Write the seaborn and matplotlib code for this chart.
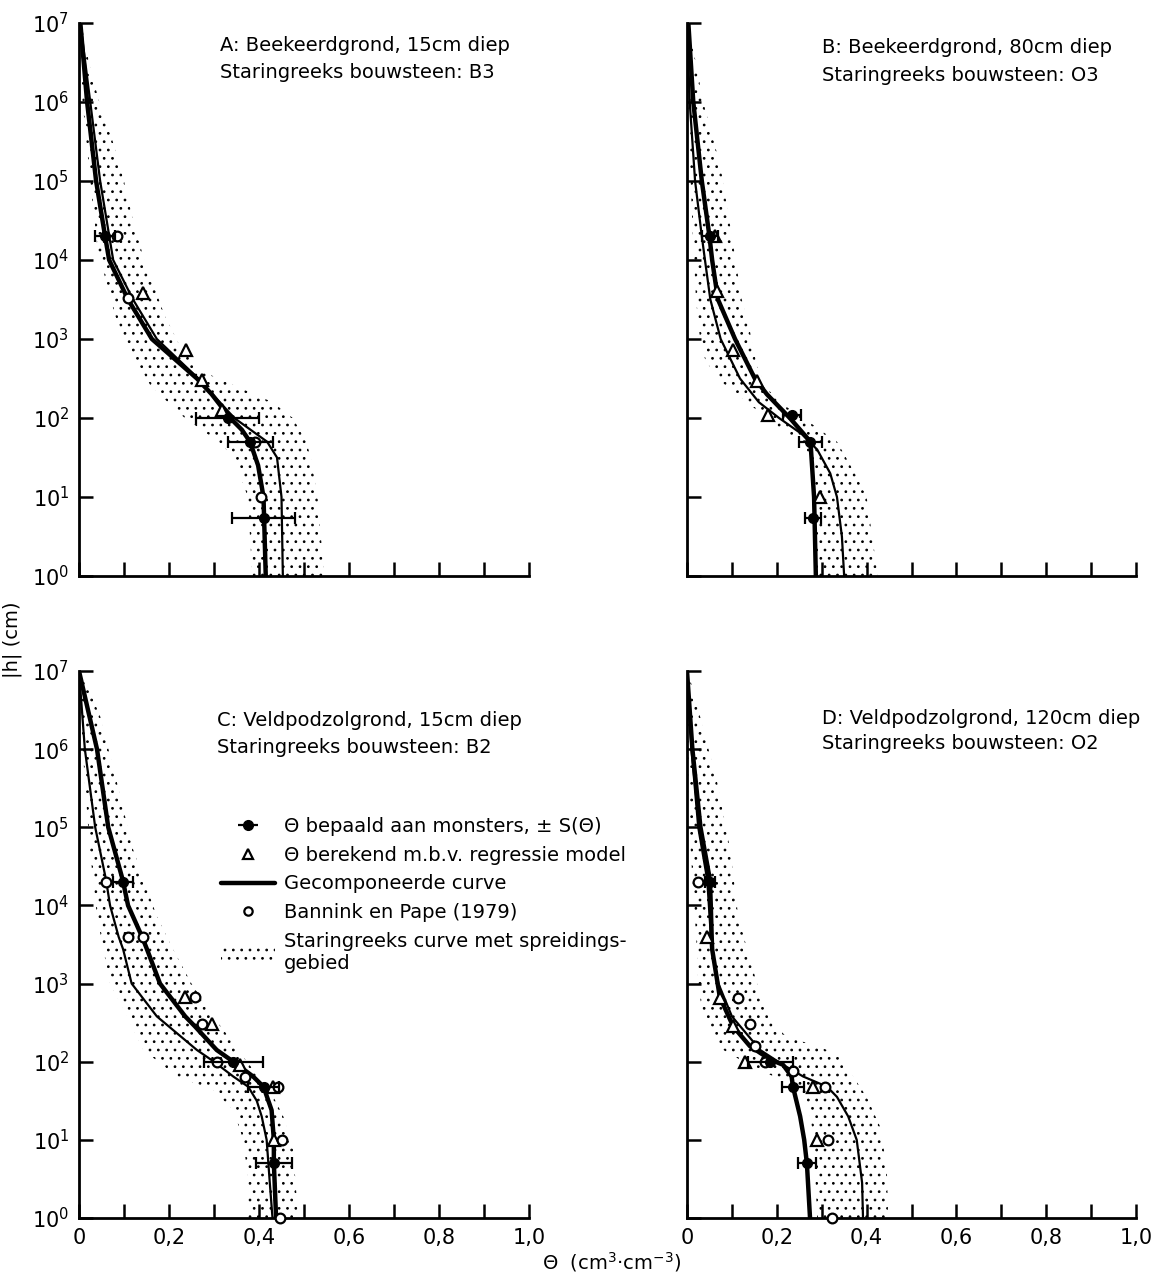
import numpy as np
import matplotlib
matplotlib.use("Agg")
import matplotlib.pyplot as plt
import seaborn as sns
from matplotlib.lines import Line2D
from matplotlib.patches import Patch
from matplotlib.ticker import NullLocator

# ---------------- data (theta in cm3/cm3, pF = log10 |h| in cm) ----------------
# Panel A
A_comp_t = [0.003, 0.018, 0.038, 0.058, 0.067, 0.109, 0.162, 0.262, 0.295, 0.336, 0.362, 0.38, 0.398, 0.41, 0.415]
A_comp_pf = [7, 6, 5, 4.3, 4, 3.5, 3, 2.5, 2.3, 2, 1.85, 1.7, 1.4, 1, 0]
A_star_t = [0.003, 0.025, 0.047, 0.076, 0.12, 0.173, 0.265, 0.345, 0.418, 0.44, 0.45, 0.453]
A_star_pf = [7, 6, 5, 4, 3.5, 3, 2.5, 2, 1.7, 1.5, 1, 0]
A_bandL_t = [0.0, 0.008, 0.025, 0.042, 0.062, 0.08, 0.11, 0.16, 0.235, 0.31, 0.345, 0.375, 0.385]
A_bandL_pf = [7, 6, 5, 4.1, 3.7, 3.3, 2.9, 2.4, 2, 1.7, 1.5, 1, 0]
A_bandR_t = [0.005, 0.022, 0.045, 0.075, 0.1, 0.12, 0.145, 0.165, 0.19, 0.225, 0.27, 0.35, 0.43, 0.475, 0.505, 0.515, 0.53, 0.545]
A_bandR_pf = [7, 6.5, 6, 5.5, 5, 4.5, 4, 3.7, 3.3, 2.9, 2.6, 2.4, 2.2, 2, 1.7, 1.5, 1, 0]
A_meas_t = [0.058, 0.33, 0.38, 0.41]
A_meas_h = [2e4, 100, 50, 5.5]
A_meas_err = [0.022, 0.07, 0.05, 0.069]
A_reg_t = [0.142, 0.238, 0.274, 0.318]
A_reg_h = [3800, 725, 300, 126]
A_bp_t = [0.085, 0.109, 0.39, 0.405]
A_bp_h = [2e4, 3300, 50, 10]

# Panel B
B_comp_t = [0.003, 0.014, 0.033, 0.05, 0.056, 0.069, 0.107, 0.151, 0.178, 0.229, 0.275, 0.283, 0.287]
B_comp_pf = [7, 6, 5, 4.3, 4, 3.5, 3, 2.5, 2.3, 2, 1.7, 1, 0]
B_star_t = [0.0, 0.006, 0.018, 0.033, 0.04, 0.052, 0.075, 0.118, 0.16, 0.205, 0.255, 0.29, 0.319, 0.334, 0.345, 0.35]
B_star_pf = [7, 6, 5, 4.3, 4, 3.5, 3, 2.5, 2.2, 2, 1.8, 1.6, 1.3, 1, 0.5, 0]
B_bandL_t = [0.0, 0.003, 0.008, 0.013, 0.02, 0.029, 0.04, 0.067, 0.134, 0.2, 0.258, 0.281, 0.285]
B_bandL_pf = [7, 6, 5, 4.3, 3.5, 3, 2.75, 2.5, 2.2, 1.89, 1.68, 1.39, 0]
B_bandR_t = [0.003, 0.036, 0.074, 0.1, 0.122, 0.14, 0.156, 0.175, 0.205, 0.26, 0.296, 0.334, 0.38, 0.40, 0.425]
B_bandR_pf = [7, 6, 5.2, 4.3, 3.5, 3.1, 2.65, 2.4, 2.2, 2.0, 1.85, 1.7, 1.24, 1.0, 0]
B_meas_t = [0.051, 0.234, 0.275, 0.281]
B_meas_h = [2e4, 110, 50, 5.5]
B_meas_err = [0.017, 0.02, 0.025, 0.018]
B_reg_t = [0.062, 0.067, 0.103, 0.156, 0.18, 0.296]
B_reg_h = [2e4, 4000, 730, 290, 110, 10]
B_bp_t = []
B_bp_h = []

# Panel C
C_comp_t = [0.0, 0.04, 0.065, 0.097, 0.109, 0.14, 0.151, 0.18, 0.236, 0.258, 0.306, 0.343, 0.387, 0.41, 0.428, 0.433, 0.433, 0.438]
C_comp_pf = [7, 6, 5, 4.33, 4, 3.6, 3.44, 3, 2.58, 2.45, 2.15, 2, 1.81, 1.68, 1.38, 1, 0.7, 0]
C_star_t = [0.0, 0.013, 0.036, 0.06, 0.069, 0.088, 0.098, 0.117, 0.173, 0.262, 0.3, 0.343, 0.376, 0.395, 0.406, 0.417, 0.424, 0.43]
C_star_pf = [7, 6, 5, 4.33, 4, 3.6, 3.44, 3, 2.58, 2.15, 2, 1.81, 1.68, 1.5, 1.3, 1, 0.45, 0]
C_bandL_t = [0.0, 0.004, 0.013, 0.024, 0.04, 0.054, 0.069, 0.107, 0.143, 0.218, 0.298, 0.343, 0.365, 0.376, 0.376]
C_bandL_pf = [7, 6.42, 5.58, 4.72, 3.86, 3.44, 3.0, 2.58, 2.15, 1.81, 1.64, 1.38, 1.0, 0.47, 0]
C_bandR_t = [0.005, 0.047, 0.084, 0.12, 0.173, 0.209, 0.25, 0.298, 0.343, 0.373, 0.424, 0.454, 0.476, 0.487]
C_bandR_pf = [7, 6.42, 5.58, 4.72, 3.86, 3.44, 3.0, 2.58, 2.24, 2.0, 1.64, 1.3, 0.87, 0]
C_meas_t = [0.097, 0.343, 0.41, 0.433]
C_meas_h = [2e4, 100, 48, 5]
C_meas_err = [0.022, 0.065, 0.035, 0.04]
C_reg_t = [0.236, 0.295, 0.358, 0.432, 0.433]
C_reg_h = [680, 300, 92, 48, 10]
C_bp_t = [0.06, 0.109, 0.143, 0.258, 0.273, 0.306, 0.369, 0.443, 0.45, 0.447]
C_bp_h = [2e4, 4000, 4000, 680, 300, 100, 63, 48, 10, 1]

# Panel D
D_comp_t = [0.0, 0.012, 0.03, 0.051, 0.053, 0.055, 0.056, 0.073, 0.103, 0.14, 0.185, 0.214, 0.233, 0.236, 0.252, 0.261, 0.267, 0.274]
D_comp_pf = [7, 6, 5, 4.33, 4, 3.6, 3.44, 2.83, 2.45, 2.2, 2.03, 1.96, 1.81, 1.68, 1.3, 1.0, 0.7, 0]
D_star_t = [0.0, 0.01, 0.025, 0.045, 0.055, 0.07, 0.1, 0.163, 0.214, 0.259, 0.312, 0.334, 0.359, 0.378, 0.39, 0.392]
D_star_pf = [7, 6, 5, 4.33, 3.44, 3.0, 2.58, 2.15, 1.96, 1.81, 1.68, 1.55, 1.3, 1.0, 0.45, 0]
D_bandL_t = [0.0, 0.003, 0.005, 0.022, 0.024, 0.036, 0.081, 0.156, 0.229, 0.267, 0.281, 0.29]
D_bandL_pf = [7, 6, 5, 3.44, 3.0, 2.58, 2.15, 1.9, 1.73, 1.51, 1.09, 0]
D_bandR_t = [0.002, 0.029, 0.067, 0.096, 0.114, 0.134, 0.156, 0.185, 0.214, 0.25, 0.29, 0.334, 0.37, 0.4, 0.43, 0.445, 0.448]
D_bandR_pf = [7, 6.42, 5.58, 4.72, 3.86, 3.44, 3.0, 2.58, 2.36, 2.27, 2.2, 2.1, 1.81, 1.55, 1.17, 0.65, 0]
D_meas_t = [0.051, 0.185, 0.236, 0.267]
D_meas_h = [2e4, 100, 48, 5]
D_meas_err = [0.012, 0.05, 0.025, 0.02]
D_reg_t = [0.044, 0.073, 0.103, 0.129, 0.281, 0.29]
D_reg_h = [4000, 660, 290, 100, 48, 10]
D_bp_t = [0.025, 0.114, 0.14, 0.151, 0.174, 0.236, 0.307, 0.314, 0.323]
D_bp_h = [2e4, 660, 300, 160, 100, 75, 48, 10, 1]

titles = [
    ("A: Beekeerdgrond, 15cm diep", "Staringreeks bouwsteen: B3"),
    ("B: Beekeerdgrond, 80cm diep", "Staringreeks bouwsteen: O3"),
    ("C: Veldpodzolgrond, 15cm diep", "Staringreeks bouwsteen: B2"),
    ("D: Veldpodzolgrond, 120cm diep", "Staringreeks bouwsteen: O2"),
]
x_ticks = [0, 0.1, 0.2, 0.3, 0.4, 0.5, 0.6, 0.7, 0.8, 0.9, 1.0]
x_ticklabels = ["0", "", "0,2", "", "0,4", "", "0,6", "", "0,8", "", "1,0"]
y_exponents = [0, 1, 2, 3, 4, 5, 6, 7]

legend_labels = [
    "Θ bepaald aan monsters, ± S(Θ)",
    "Θ berekend m.b.v. regressie model",
    "Gecomponeerde curve",
    "Bannink en Pape (1979)",
    "Staringreeks curve met spreidings-\ngebied",
]

# ---------------- style ----------------
sns.set_style("ticks")
plt.rcParams["font.family"] = ["DejaVu Sans"]
plt.rcParams["mathtext.fontset"] = "dejavusans"
plt.rcParams["hatch.linewidth"] = 0.75
plt.rcParams["hatch.color"] = "black"
for k in ["text.color", "axes.labelcolor", "xtick.color", "ytick.color", "axes.edgecolor"]:
    plt.rcParams[k] = "black"

fig = plt.figure(figsize=(11.6, 12.76), dpi=100)
W, H = 1160.0, 1276.0
positions = [
    [79 / W, 1 - 576 / H, 450 / W, 553 / H],
    [687 / W, 1 - 576 / H, 449 / W, 553 / H],
    [79 / W, 1 - 1218 / H, 450 / W, 547 / H],
    [687 / W, 1 - 1218 / H, 449 / W, 547 / H],
]
title_pos = [(0.313, 0.960, 0.910), (0.300, 0.955, 0.905),
             (0.307, 0.910, 0.861), (0.300, 0.914, 0.868)]

panels = [
    (A_comp_t, A_comp_pf, A_star_t, A_star_pf, A_bandL_t, A_bandL_pf, A_bandR_t, A_bandR_pf,
     A_meas_t, A_meas_h, A_meas_err, A_reg_t, A_reg_h, A_bp_t, A_bp_h),
    (B_comp_t, B_comp_pf, B_star_t, B_star_pf, B_bandL_t, B_bandL_pf, B_bandR_t, B_bandR_pf,
     B_meas_t, B_meas_h, B_meas_err, B_reg_t, B_reg_h, B_bp_t, B_bp_h),
    (C_comp_t, C_comp_pf, C_star_t, C_star_pf, C_bandL_t, C_bandL_pf, C_bandR_t, C_bandR_pf,
     C_meas_t, C_meas_h, C_meas_err, C_reg_t, C_reg_h, C_bp_t, C_bp_h),
    (D_comp_t, D_comp_pf, D_star_t, D_star_pf, D_bandL_t, D_bandL_pf, D_bandR_t, D_bandR_pf,
     D_meas_t, D_meas_h, D_meas_err, D_reg_t, D_reg_h, D_bp_t, D_bp_h),
]

axes = []
for i, (pos, data) in enumerate(zip(positions, panels)):
    (ct, cpf, st, spf, blt, blpf, brt, brpf, mt, mh, me, rt, rh, bt, bh) = data
    ax = fig.add_axes(pos)
    axes.append(ax)
    ax.set_yscale("log")
    ax.set_xlim(0, 1.0)
    ax.set_ylim(1, 1e7)

    # Staring band (stippled)
    poly_t = np.concatenate([np.asarray(blt), np.asarray(brt)[::-1]])
    poly_h = 10 ** np.concatenate([np.asarray(blpf, float), np.asarray(brpf, float)[::-1]])
    ax.fill(poly_t, poly_h, facecolor="none", edgecolor="black", hatch="..",
            linewidth=0, zorder=1)

    # Staring curve (thin) and composed curve (thick)
    sns.lineplot(x=st, y=10 ** np.asarray(spf, float), sort=False, estimator=None,
                 color="black", linewidth=1.6, ax=ax, zorder=3)
    sns.lineplot(x=ct, y=10 ** np.asarray(cpf, float), sort=False, estimator=None,
                 color="black", linewidth=3.2, ax=ax, zorder=4)

    # Regression model (triangles) and Bannink & Pape (circles)
    if len(rt):
        ax.plot(rt, rh, linestyle="none", marker="^", markersize=8, markerfacecolor="white",
                markeredgecolor="black", markeredgewidth=1.6, zorder=6, clip_on=False)
    if len(bt):
        ax.plot(bt, bh, linestyle="none", marker="o", markersize=7, markerfacecolor="white",
                markeredgecolor="black", markeredgewidth=1.6, zorder=6, clip_on=False)

    # Measured values with +- S(theta)
    ax.errorbar(mt, mh, xerr=me, fmt="o", color="black", markersize=7, capsize=4.5,
                elinewidth=1.6, capthick=1.6, zorder=7)

    # axes styling
    sns.despine(ax=ax)
    for sp in ["left", "bottom"]:
        ax.spines[sp].set_linewidth(2.0)
        ax.spines[sp].set_color("black")
    ax.set_xticks(x_ticks)
    ax.set_yticks([10.0 ** e for e in y_exponents])
    ax.yaxis.set_minor_locator(NullLocator())
    if i >= 2:
        ax.set_xticklabels(x_ticklabels)
    else:
        ax.set_xticklabels([""] * len(x_ticks))
    if i % 2 == 0:
        ax.set_yticklabels([r"$10^{%d}$" % e for e in y_exponents])
    else:
        ax.set_yticklabels([""] * len(y_exponents))
    ax.tick_params(axis="both", direction="in", length=10, width=1.8, labelsize=15, pad=7,
                   colors="black")
    ax.set_xlabel("")
    ax.set_ylabel("")

    tx, ty1, ty2 = title_pos[i]
    ax.text(tx, ty1, titles[i][0], transform=ax.transAxes, fontsize=14, va="center", ha="left")
    ax.text(tx, ty2, titles[i][1], transform=ax.transAxes, fontsize=14, va="center", ha="left")

# legend in panel C
axC = axes[2]
h_meas = axC.errorbar([], [], xerr=[], fmt="o", color="black", markersize=7, capsize=4.5,
                      elinewidth=1.6, capthick=1.6)
h_reg = Line2D([], [], linestyle="none", marker="^", markersize=7, markerfacecolor="white",
               markeredgecolor="black", markeredgewidth=1.6)
h_comp = Line2D([], [], color="black", linewidth=3.2)
h_bp = Line2D([], [], linestyle="none", marker="o", markersize=6, markerfacecolor="white",
              markeredgecolor="black", markeredgewidth=1.6)
h_star = Patch(facecolor="none", edgecolor="black", hatch="..", linewidth=0)
leg = axC.legend([h_meas, h_reg, h_comp, h_bp, h_star], legend_labels,
                 loc="upper left", bbox_to_anchor=(0.315, 0.733), frameon=False,
                 fontsize=14, handlelength=2.8, handletextpad=0.45, labelspacing=0.5,
                 borderpad=0, borderaxespad=0)

fig.text(12 / W, 1 - 640 / H, "|h| (cm)", rotation=90, fontsize=14, ha="center", va="center")
fig.text(612 / W, 1 - 1262 / H, "Θ  (cm$^{3}$·cm$^{-3}$)", fontsize=14, ha="center", va="center")

fig.savefig("out.png", dpi=100)
